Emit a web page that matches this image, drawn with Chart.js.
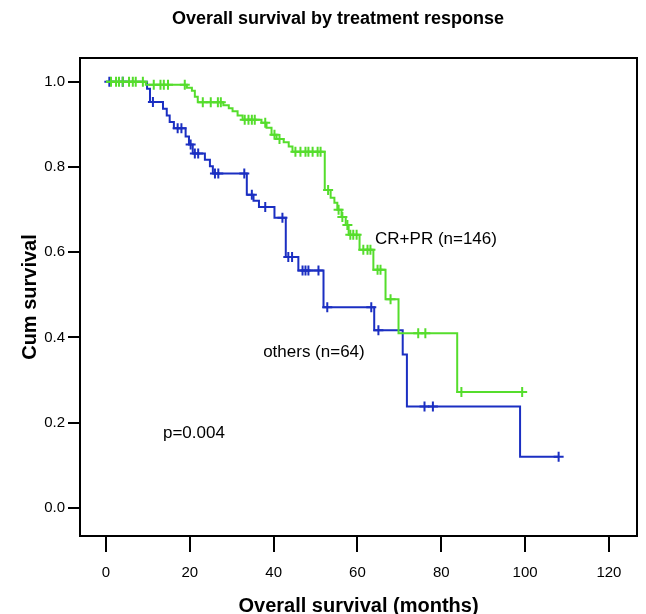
<!DOCTYPE html>
<html>
<head>
<meta charset="utf-8">
<script src="https://cdn.jsdelivr.net/npm/chart.js@4.4.1/dist/chart.umd.min.js"></script>
<style>
  html, body { margin: 0; padding: 0; background: #fff; }
</style>
</head>
<body>
<canvas id="myChart" width="646" height="614"></canvas>
<script>
const chartTitle = 'Overall survival by treatment response'
const xTitle = 'Overall survival (months)'
const xTicks = [0, 20, 40, 60, 80, 100, 120]
const yTicks = [0.0, 0.2, 0.4, 0.6, 0.8, 1.0]

// CR+PR (n=146): event times (months), survival after each event, censored times
const crprTimes = [9.5, 19.3, 20.5, 21.2, 21.9, 28.0, 29.3, 30.2, 31.4, 32.6, 37.1, 38.3, 39.5, 40.7, 42.4, 43.6, 44.5,
  52.2, 53.6, 54.5, 55.2, 56.2, 57.2, 57.9, 60.5, 63.8, 66.7, 69.8, 83.8]
const crprSurv = [0.993, 0.986, 0.979, 0.965, 0.952, 0.945, 0.938, 0.931, 0.921, 0.911, 0.904, 0.892, 0.876, 0.866, 0.858, 0.848, 0.836,
  0.746, 0.728, 0.716, 0.700, 0.683, 0.664, 0.641, 0.606, 0.559, 0.490, 0.410, 0.272]
const crprCensor = [1.2, 2.4, 3.1, 4.0, 5.5, 6.4, 7.1, 8.8, 11.4, 13.0, 13.8, 14.8, 18.8, 23.1, 25.0, 26.7, 27.4,
  33.1, 34.0, 34.8, 35.5, 38.0, 40.2, 41.4, 45.2, 46.4, 47.6, 48.3, 49.3, 50.5, 51.2, 53.0, 55.5, 56.4, 57.6,
  58.3, 59.0, 59.8, 61.4, 62.4, 63.1, 64.8, 65.5, 67.9, 74.5, 76.2, 84.8, 99.3]

// others (n=64)
const othersTimes = [9.8, 10.5, 13.6, 14.5, 15.2, 16.2, 19.0, 19.8, 20.7, 23.6, 24.8, 25.5, 33.6, 35.2, 36.5, 40.2,
  42.9, 45.9, 51.9, 64.0, 70.8, 71.8, 98.8]
const othersSurv = [0.984, 0.953, 0.937, 0.921, 0.906, 0.891, 0.872, 0.853, 0.832, 0.817, 0.802, 0.785, 0.735, 0.721, 0.706, 0.681,
  0.589, 0.557, 0.471, 0.417, 0.360, 0.238, 0.120]
const othersCensor = [0.8, 4.0, 11.2, 17.1, 18.0, 20.2, 21.2, 22.0, 26.0, 26.8, 33.0, 34.8, 38.0, 42.1, 43.5, 44.4,
  46.9, 47.6, 48.3, 50.7, 52.8, 63.3, 65.0, 76.0, 78.0, 108.0]

const green = '#55dd2c'
const blue = '#1b2fc2'

// survival at time t from the step function
function survAt(times, surv, t) {
  let s = 1
  times.forEach((tt, i) => { if (tt <= t) s = surv[i] })
  return s
}

function stepPoints(times, surv, censor) {
  const pts = [{ x: 0, y: 1 }]
  times.forEach((t, i) => pts.push({ x: t, y: surv[i] }))
  const end = Math.max(...censor, ...times)
  pts.push({ x: end, y: survAt(times, surv, end) })
  return pts
}

function censorPoints(times, surv, censor) {
  return censor.map(t => ({ x: t, y: survAt(times, surv, t) }))
}

const textFont = '"Liberation Sans", Arial, sans-serif'

const frame = {
  id: 'frame',
  afterDatasetsDraw(chart) {
    const { ctx, chartArea, scales } = chart
    ctx.save()
    ctx.strokeStyle = '#000'
    ctx.lineWidth = 2
    ctx.strokeRect(chartArea.left, chartArea.top, chartArea.right - chartArea.left, chartArea.bottom - chartArea.top)

    ctx.fillStyle = '#000'
    ctx.textBaseline = 'middle'
    ctx.textAlign = 'center'
    ctx.font = 'bold 18px ' + textFont
    ctx.fillText(chartTitle, 338, 19)

    ctx.font = 'bold 20px ' + textFont
    ctx.fillText(xTitle, (chartArea.left + chartArea.right) / 2, 606)

    ctx.textAlign = 'left'
    ctx.font = '17px ' + textFont
    ctx.fillText('CR+PR (n=146)', scales.x.getPixelForValue(64.2), scales.y.getPixelForValue(0.63))
    ctx.fillText('others (n=64)', scales.x.getPixelForValue(37.5), scales.y.getPixelForValue(0.364))
    ctx.fillText('p=0.004', scales.x.getPixelForValue(13.6), scales.y.getPixelForValue(0.174))
    ctx.restore()
  }
}

const ctx = document.getElementById('myChart').getContext('2d')
new Chart(ctx, {
  type: 'line',
  data: {
    datasets: [
      {
        label: 'CR+PR (n=146)',
        data: stepPoints(crprTimes, crprSurv, crprCensor),
        borderColor: green,
        borderWidth: 2,
        stepped: 'before',
        pointRadius: 0,
        fill: false
      },
      {
        label: 'CR+PR censored',
        data: censorPoints(crprTimes, crprSurv, crprCensor),
        showLine: false,
        pointStyle: 'cross',
        pointRadius: 5,
        borderColor: green,
        pointBorderWidth: 2
      },
      {
        label: 'others (n=64)',
        data: stepPoints(othersTimes, othersSurv, othersCensor),
        borderColor: blue,
        borderWidth: 2,
        stepped: 'before',
        pointRadius: 0,
        fill: false
      },
      {
        label: 'others censored',
        data: censorPoints(othersTimes, othersSurv, othersCensor),
        showLine: false,
        pointStyle: 'cross',
        pointRadius: 5,
        borderColor: blue,
        pointBorderWidth: 2
      }
    ]
  },
  options: {
    responsive: false,
    animation: false,
    layout: { padding: { top: 58, right: 9, left: 0, bottom: 0 } },
    scales: {
      x: {
        type: 'linear',
        min: -6.2,
        max: 126.7,
        afterBuildTicks: s => { s.ticks = xTicks.map(v => ({ value: v })) },
        afterFit: s => { s.height = 78 },
        grid: { drawOnChartArea: false, drawTicks: true, tickLength: 16, color: '#000', lineWidth: 2 },
        border: { display: true, color: '#000', width: 2 },
        ticks: { color: '#000', font: { family: textFont, size: 15 }, padding: 12, maxRotation: 0 }
      },
      y: {
        type: 'linear',
        min: -0.066,
        max: 1.056,
        afterBuildTicks: s => { s.ticks = yTicks.map(v => ({ value: v })) },
        afterFit: s => { s.width = 80 },
        grid: { drawOnChartArea: false, drawTicks: true, tickLength: 12, color: '#000', lineWidth: 2 },
        border: { display: true, color: '#000', width: 2 },
        ticks: { color: '#000', font: { family: textFont, size: 15 }, padding: 3, callback: v => v.toFixed(1) },
        title: {
          display: true,
          text: 'Cum survival',
          color: '#000',
          font: { family: textFont, size: 20, weight: 'bold' },
          padding: { top: 18, bottom: 0 }
        }
      }
    },
    plugins: {
      legend: { display: false },
      tooltip: { enabled: false }
    }
  },
  plugins: [frame]
})
</script>
</body>
</html>
